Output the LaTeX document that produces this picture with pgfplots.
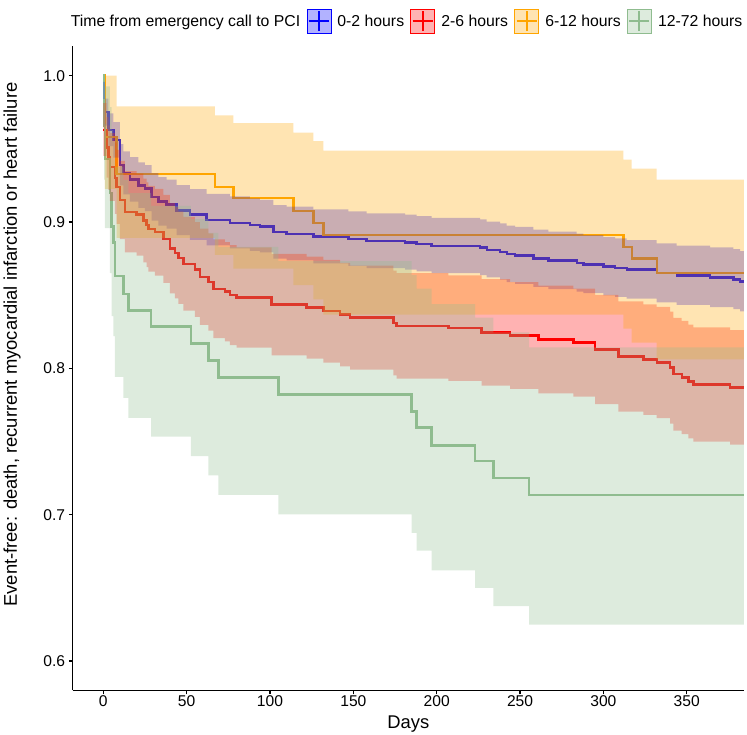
\documentclass[border=0pt]{standalone}
\usepackage{fontspec}
\setmainfont{Liberation Sans}
\setsansfont{Liberation Sans}
\usepackage{pgfplots}
\usepackage{pgfplotstable}
\pgfplotsset{compat=1.18}
\usepgfplotslibrary{fillbetween}
\definecolor{cblue}{RGB}{0,0,255}
\definecolor{cred}{RGB}{255,0,0}
\definecolor{corange}{RGB}{255,165,0}
\definecolor{cgreen}{RGB}{143,188,143}

\pgfplotstableread{
t s lo hi
0 0.990 0.9842 0.9958
1 0.975 0.9658 0.9843
3 0.963 0.9519 0.9742
6 0.956 0.9440 0.9682
10 0.939 0.9250 0.9532
12 0.9335 0.9189 0.9483
16 0.929 0.9140 0.9443
21 0.925 0.9096 0.9407
25 0.923 0.9074 0.9389
29 0.917 0.9009 0.9334
33 0.914 0.8976 0.9307
38 0.912 0.8954 0.9289
44 0.908 0.8911 0.9252
52 0.905 0.8878 0.9225
62 0.9015 0.8841 0.9193
76 0.8995 0.8819 0.9175
88 0.898 0.8803 0.9161
94 0.897 0.8792 0.9152
102 0.893 0.8749 0.9115
110 0.892 0.8738 0.9105
126 0.890 0.8717 0.9087
147 0.8885 0.8701 0.9073
158 0.887 0.8685 0.9059
181 0.886 0.8674 0.9050
188 0.885 0.8663 0.9040
197 0.8838 0.8651 0.9029
226 0.8825 0.8637 0.9018
230 0.881 0.8621 0.9003
238 0.8797 0.8607 0.8991
242 0.878 0.8589 0.8976
247 0.877 0.8578 0.8966
258 0.875 0.8557 0.8948
267 0.8736 0.8542 0.8934
284 0.872 0.8525 0.8920
288 0.871 0.8514 0.8910
300 0.8695 0.8498 0.8896
307 0.8687 0.8489 0.8889
314 0.8675 0.8477 0.8877
332 0.865 0.8450 0.8854
344 0.8634 0.8433 0.8839
364 0.862 0.8418 0.8826
378 0.8607 0.8405 0.8814
382 0.8593 0.8390 0.8801
384.3 0.8593 0.8390 0.8801
}\blueT

\pgfplotstableread{
t s lo hi
0 0.963 0.9452 0.9812
2 0.951 0.9304 0.9717
3 0.944 0.9220 0.9660
4 0.9376 0.9145 0.9607
7 0.930 0.9056 0.9544
8 0.924 0.8987 0.9493
10 0.915 0.8883 0.9417
13 0.907 0.8792 0.9348
20 0.905 0.8770 0.9330
24 0.901 0.8724 0.9296
26 0.898 0.8691 0.9270
27 0.8954 0.8661 0.9247
31 0.893 0.8634 0.9226
36 0.8885 0.8584 0.9186
40 0.882 0.8512 0.9129
43 0.879 0.8478 0.9102
45 0.8756 0.8440 0.9072
48 0.8715 0.8395 0.9035
55 0.8675 0.8351 0.8999
58 0.8626 0.8297 0.8955
63 0.859 0.8257 0.8923
66 0.8544 0.8207 0.8881
73 0.8524 0.8185 0.8863
76 0.850 0.8159 0.8842
80 0.8484 0.8141 0.8827
101 0.8435 0.8088 0.8783
122 0.8415 0.8066 0.8764
132 0.839 0.8039 0.8742
142 0.8367 0.8014 0.8721
148 0.8347 0.7992 0.8702
174 0.831 0.7952 0.8668
176 0.829 0.7930 0.8650
207 0.8275 0.7914 0.8636
227 0.8246 0.7882 0.8610
244 0.8224 0.7859 0.8590
261 0.8197 0.7829 0.8565
282 0.8176 0.7807 0.8545
295 0.8129 0.7756 0.8502
309 0.8081 0.7704 0.8458
324 0.806 0.7682 0.8438
332 0.804 0.7660 0.8420
340 0.8005 0.7623 0.8387
342 0.796 0.7575 0.8345
347 0.7937 0.7550 0.8324
351 0.791 0.7521 0.8299
354 0.789 0.7500 0.8280
376 0.787 0.7478 0.8262
384.3 0.787 0.7478 0.8262
}\redT

\pgfplotstableread{
t s lo hi
0 1.0 1.0 1.0
1 0.958 0.9226 1.0
8 0.933 0.8891 0.9790
67 0.924 0.8776 0.9729
78 0.9165 0.8681 0.9676
114 0.9075 0.8569 0.9611
126 0.8995 0.8471 0.9552
132 0.891 0.8367 0.9488
312 0.883 0.8271 0.9427
317 0.875 0.8175 0.9365
332 0.8653 0.8061 0.9289
384.3 0.8653 0.8061 0.9289
}\orangeT

\pgfplotstableread{
t s lo hi
0 1.0 1.0 1.0
0.5 0.966 0.9289 1.0
1 0.943 0.8958 0.9927
4 0.920 0.8650 0.9785
5 0.897 0.8357 0.9628
6 0.886 0.8220 0.9550
7 0.863 0.7941 0.9379
12 0.851 0.7798 0.9288
15 0.8395 0.7662 0.9198
28.7 0.8285 0.7534 0.9111
52.6 0.817 0.7401 0.9019
63 0.8055 0.7269 0.8926
69 0.7938 0.7136 0.8830
105 0.782 0.7003 0.8732
185 0.7706 0.6876 0.8637
188 0.7597 0.6755 0.8544
197 0.7474 0.6619 0.8439
223 0.7365 0.6500 0.8346
234 0.725 0.6375 0.8246
255.5 0.7134 0.6249 0.8144
384.3 0.7134 0.6249 0.8144
}\greenT

\begin{document}
\begin{tikzpicture}
\begin{axis}[
  set layers,
  at={(0pt,0pt)}, anchor=south west,
  scale only axis, width=671.1pt, height=643.9pt,
  xmin=-18.3, xmax=384.3, ymin=0.58, ymax=1.02,
  axis lines*=left,
  axis line style={line width=1.1pt, black},
  xtick={0,50,...,350}, ytick={0.6,0.7,0.8,0.9,1.0},
  tick align=outside, major tick length=4pt,
  tick style={line width=1.1pt, black},
  /pgf/number format/assume math mode=true,
  yticklabel style={/pgf/number format/fixed, /pgf/number format/fixed zerofill, /pgf/number format/precision=1},
  ticklabel style={font=\fontsize{15.6}{18}\selectfont, text=black},
  xticklabel style={inner sep=1.2pt},
  yticklabel style={inner sep=3.5pt},
  xlabel={Days},
  ylabel={Event-free: death, recurrent myocardial infarction or heart failure},
  label style={font=\fontsize{18.4}{22}\selectfont},
  xlabel style={at={(axis description cs:0.5,-0.0519)}, anchor=center},
  ylabel style={at={(axis description cs:-0.0906,0.537)}, anchor=center},
  legend style={at={(axis description cs:-0.0127,1.0394)}, anchor=west,
    draw=none, fill=none, inner sep=0pt, outer sep=0pt,
    font=\fontsize{15.8}{18}\selectfont,
    nodes={inner sep=0pt},
    /tikz/every odd column/.style={column sep=6.5pt},
    /tikz/every even column/.style={column sep=6.3pt}},
  legend columns=-1,
  legend cell align=left,
]
\addlegendimage{empty legend}
\addlegendentry{Time from emergency call to PCI}
\addlegendimage{legend image code/.code={
  \fill[cblue, fill opacity=0.3] (0pt,-12pt) rectangle (24pt,12pt);
  \draw[cblue, line width=2pt] (2pt,0pt)--(22pt,0pt) (12pt,-10pt)--(12pt,10pt);}}
\addlegendentry{0-2 hours}
\addlegendimage{legend image code/.code={
  \fill[cred, fill opacity=0.3] (0pt,-12pt) rectangle (24pt,12pt);
  \draw[cred, line width=2pt] (2pt,0pt)--(22pt,0pt) (12pt,-10pt)--(12pt,10pt);}}
\addlegendentry{2-6 hours}
\addlegendimage{legend image code/.code={
  \fill[corange, fill opacity=0.3] (0pt,-12pt) rectangle (24pt,12pt);
  \draw[corange, line width=2pt] (2pt,0pt)--(22pt,0pt) (12pt,-10pt)--(12pt,10pt);}}
\addlegendentry{6-12 hours}
\addlegendimage{legend image code/.code={
  \fill[cgreen, fill opacity=0.3] (0pt,-12pt) rectangle (24pt,12pt);
  \draw[cgreen, line width=2pt] (2pt,0pt)--(22pt,0pt) (12pt,-10pt)--(12pt,10pt);}}
\addlegendentry{12-72 hours}

% survival step lines (on a layer below the bands)
\addplot[forget plot, on layer=axis background, const plot, cblue, line width=2.4pt] table[x=t,y=s]{\blueT};
\addplot[forget plot, on layer=axis background, const plot, cred, line width=2.4pt] table[x=t,y=s]{\redT};
\addplot[forget plot, on layer=axis background, const plot, corange, line width=2.4pt] table[x=t,y=s]{\orangeT};
\addplot[forget plot, on layer=axis background, const plot, cgreen, line width=2.4pt] table[x=t,y=s]{\greenT};

% confidence bands (drawn over the lines, as in the reference)
\addplot[forget plot, const plot, draw=none, name path=bU] table[x=t,y=hi]{\blueT};
\addplot[forget plot, const plot, draw=none, name path=bL] table[x=t,y=lo]{\blueT};
\addplot[forget plot, fill=cblue, fill opacity=0.3, draw=none] fill between[of=bU and bL];
\addplot[forget plot, const plot, draw=none, name path=rU] table[x=t,y=hi]{\redT};
\addplot[forget plot, const plot, draw=none, name path=rL] table[x=t,y=lo]{\redT};
\addplot[forget plot, fill=cred, fill opacity=0.3, draw=none] fill between[of=rU and rL];
\addplot[forget plot, const plot, draw=none, name path=oU] table[x=t,y=hi]{\orangeT};
\addplot[forget plot, const plot, draw=none, name path=oL] table[x=t,y=lo]{\orangeT};
\addplot[forget plot, fill=corange, fill opacity=0.3, draw=none] fill between[of=oU and oL];
\addplot[forget plot, const plot, draw=none, name path=gU] table[x=t,y=hi]{\greenT};
\addplot[forget plot, const plot, draw=none, name path=gL] table[x=t,y=lo]{\greenT};
\addplot[forget plot, fill=cgreen, fill opacity=0.3, draw=none] fill between[of=gU and gL];
\end{axis}
\pgfresetboundingbox
\path[use as bounding box] (-72.8pt,-43.7pt) rectangle (674.2pt,690.3pt);
\end{tikzpicture}
\end{document}
